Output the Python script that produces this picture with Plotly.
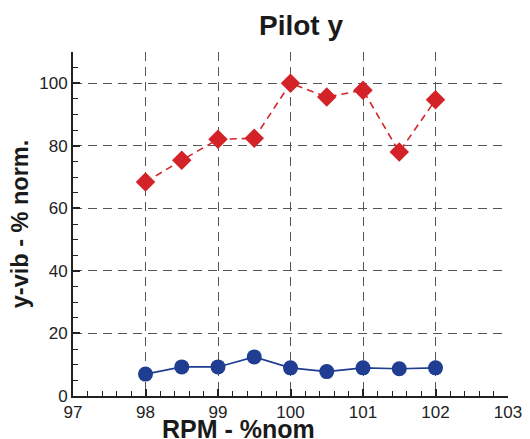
import plotly.graph_objects as go

rpm = [98, 98.5, 99, 99.5, 100, 100.5, 101, 101.5, 102]
red_vals = [68.4, 75.4, 82.1, 82.4, 100.0, 95.6, 97.8, 78.0, 94.7]
blue_vals = [7.0, 9.3, 9.3, 12.5, 9.0, 7.8, 9.0, 8.7, 9.0]

x_ticks = [97, 98, 99, 100, 101, 102, 103]
y_ticks = [0, 20, 40, 60, 80, 100]

RED = "#d42229"
BLUE = "#1f3e92"
GRID = "#555555"
FONT = "Liberation Sans, Arial, Helvetica, sans-serif"

fig = go.Figure()
fig.add_trace(go.Scatter(
    x=rpm, y=red_vals, mode="lines+markers",
    line=dict(color=RED, width=1.6, dash="7px,5px"),
    marker=dict(symbol="diamond", size=15, color=RED),
    showlegend=False,
))
fig.add_trace(go.Scatter(
    x=rpm, y=blue_vals, mode="lines+markers",
    line=dict(color=BLUE, width=1.6),
    marker=dict(symbol="circle", size=15, color=BLUE),
    showlegend=False,
))

fig.update_layout(
    width=530, height=439,
    margin=dict(l=73, r=22, t=52, b=43, autoexpand=False),
    paper_bgcolor="white", plot_bgcolor="white",
    font=dict(family=FONT, color="#222222", size=17),
    title=dict(text="<b>Pilot y</b>", x=0.568, xanchor="center", y=0.943, yanchor="middle",
               font=dict(size=28, color="#1a1a1a")),
    annotations=[dict(
        text="<b>RPM - %nom</b>", xref="paper", yref="paper",
        x=0.381, y=-0.095, xanchor="center", yanchor="middle",
        showarrow=False, font=dict(size=25, color="#1a1a1a"),
    )],
)
fig.update_xaxes(
    range=[97, 103], tickvals=x_ticks, ticktext=[str(v) for v in x_ticks],
    showline=True, linecolor="#222222", linewidth=2, mirror=False,
    ticks="inside", ticklen=7, tickwidth=1.5, tickcolor="#222222",
    minor=dict(dtick=0.2, ticks="inside", ticklen=5, tickwidth=1, tickcolor="#222222", showgrid=False),
    showgrid=True, gridcolor=GRID, griddash="9px,6px", gridwidth=1,
    zeroline=False, automargin=False,
    tickfont=dict(size=17),
)
fig.update_yaxes(
    range=[0, 110], tickvals=y_ticks, ticktext=[str(v) for v in y_ticks],
    showline=True, linecolor="#222222", linewidth=2, mirror=False,
    ticks="inside", ticklen=7, tickwidth=1.5, tickcolor="#222222",
    minor=dict(dtick=5, ticks="inside", ticklen=5, tickwidth=1, tickcolor="#222222", showgrid=False),
    showgrid=True, gridcolor=GRID, griddash="9px,6px", gridwidth=1,
    zeroline=False, automargin=False,
    title=dict(text="<b>y-vib - % norm.</b>", font=dict(size=23.5, color="#1a1a1a"), standoff=4),
    tickfont=dict(size=17),
)

fig.write_html("out.html")
